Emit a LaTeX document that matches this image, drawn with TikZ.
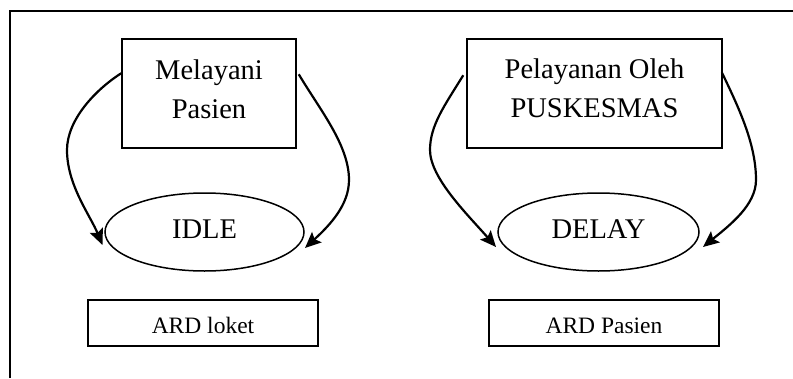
\documentclass[tikz,border=0pt]{standalone}
\usepackage{fontspec}
\setmainfont{Liberation Serif}
\usetikzlibrary{shapes.geometric,arrows.meta,calc}
\begin{document}
\begin{tikzpicture}[x=1pt,y=-1pt,
  frame/.style={line width=2pt},
  boxnode/.style={draw, line width=1.5pt, inner sep=0pt},
  ovalnode/.style={draw, ellipse, line width=1.5pt, inner sep=0pt},
  bigtext/.style={font=\fontsize{28.5}{34}\selectfont, anchor=base, inner sep=0pt},
  smalltext/.style={font=\fontsize{23.5}{28}\selectfont, anchor=base, inner sep=0pt},
  flow/.style={line width=2.2pt, -{Stealth[length=16pt,width=14pt,inset=3pt]}}]
\useasboundingbox (0,0) rectangle (793,378);
\coordinate (fbl) at (10,378);
\coordinate (ftl) at (10,11);
\coordinate (ftr) at (793,11);
\draw[frame] (fbl) -- (ftl) -- (ftr);

% left group
\node[boxnode, minimum width=174pt, minimum height=109pt] (mp) at (209,93.5) {};
\node[bigtext] (mp1) at (209,79) {Melayani};
\node[bigtext] (mp2) at (209,118) {Pasien};
\node[ovalnode, minimum width=199pt, minimum height=78pt] (idle) at (204.5,232) {};
\node[bigtext] (idlet) at (204.5,238) {IDLE};
\node[boxnode, minimum width=230pt, minimum height=46pt] (ardl) at (203,323) {};
\node[smalltext] (ardlt) at (203,333) {ARD loket};

% right group
\node[boxnode, minimum width=255pt, minimum height=109pt] (pp) at (594.5,93.5) {};
\node[bigtext] (pp1) at (594.5,78) {Pelayanan Oleh};
\node[bigtext] (pp2) at (594.5,117) {PUSKESMAS};
\node[ovalnode, minimum width=201pt, minimum height=78pt] (delay) at (598.5,232) {};
\node[bigtext] (delayt) at (598.5,238) {DELAY};
\node[boxnode, minimum width=230pt, minimum height=46pt] (ardp) at (604,323) {};
\node[smalltext] (ardpt) at (604,333) {ARD Pasien};

% arrows
\draw[flow] ($(mp.north west)+(0,35)$) .. controls (95,90) and (67,120) .. (67,150)
  .. controls (67,185) and (90,215) .. ($(idle.center)+(-102,13)$);
\draw[flow] ($(mp.north east)+(2,36)$) .. controls (320,110) and (349,145) .. (349,180)
  .. controls (349,205) and (330,225) .. ($(idle.center)+(100.5,16)$);
\draw[flow] ($(pp.north west)+(-3,37)$) .. controls (445,105) and (430,125) .. (430,150)
  .. controls (430,178) and (468,215) .. ($(delay.center)+(-102.5,15)$);
\draw[flow] ($(pp.north east)+(-1,34)$) .. controls (740,110) and (756,145) .. (756,180)
  .. controls (756,205) and (730,225) .. ($(delay.center)+(104.5,15)$);
\end{tikzpicture}
\end{document}
